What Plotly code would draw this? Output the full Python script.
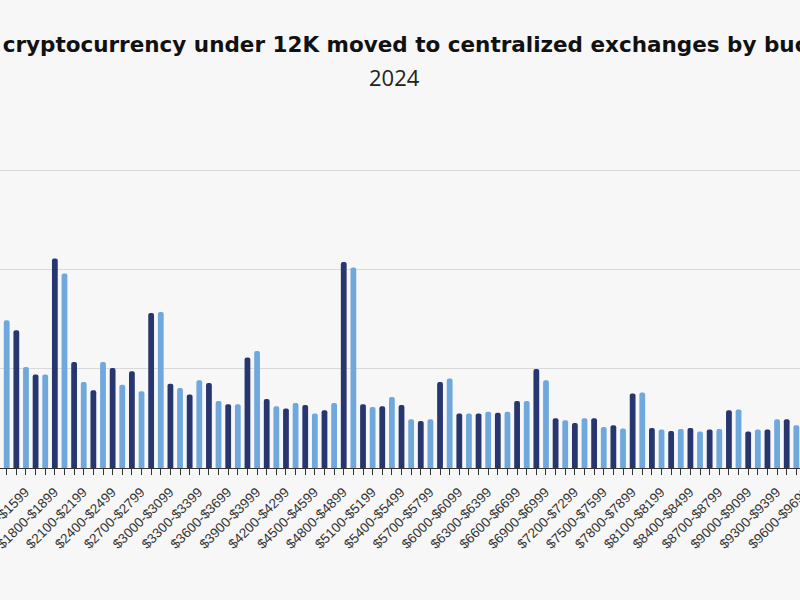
import plotly.graph_objects as go

# ---- data ----
bucket_starts = list(range(1300, 9700, 100))
bucket_labels = [f"${s}-${s + 99}" for s in bucket_starts]
labeled_starts = list(range(1500, 9700, 300))

values = [
    137.0, 148.8, 138.8, 101.8, 94.1, 94.1, 211.0, 195.9, 106.8, 86.7,
    78.3, 106.8, 100.8, 84.0, 97.5, 77.3, 156.2, 157.2, 85.0, 80.6,
    74.0, 88.4, 85.7, 67.5, 64.2, 64.2, 111.3, 117.9, 69.5, 62.2,
    59.9, 65.5, 63.5, 54.8, 58.1, 65.5, 207.6, 202.0, 64.2, 61.5,
    62.2, 71.6, 63.5, 49.1, 47.4, 49.1, 86.7, 90.1, 54.8, 54.8,
    54.8, 56.8, 55.8, 56.8, 67.5, 67.5, 99.8, 88.4, 50.1, 48.1,
    45.3, 50.1, 50.1, 41.3, 43.0, 39.7, 75.0, 76.0, 40.3, 38.7,
    37.3, 39.3, 40.3, 36.7, 38.7, 39.3, 58.1, 58.9, 36.7, 38.7,
    38.7, 49.1, 49.1, 43.0,
]

title_text = "Total cryptocurrency under 12K moved to centralized exchanges by bucket"
subtitle_text = "2024"

DARK = "#27366f"
LIGHT = "#6fa8dc"
BG = "#f7f7f7"

colors = [LIGHT if (s // 100) % 2 == 0 else DARK for s in bucket_starts]
ticktext = [lab if s in labeled_starts else "" for s, lab in zip(bucket_starts, bucket_labels)]

x_range = [0.304, 83.38]
y_range = [0, 301.3]

fig = go.Figure()
fig.add_trace(go.Bar(
    x=bucket_labels,
    y=values,
    marker=dict(color=colors, cornerradius=3, line=dict(width=0)),
    showlegend=False,
    hoverinfo="x+y",
))

fig.update_layout(
    width=800,
    height=600,
    paper_bgcolor=BG,
    plot_bgcolor=BG,
    margin=dict(l=0, r=0, t=169, b=132, pad=0, autoexpand=False),
    bargap=0.4,
    title=dict(
        text=title_text,
        x=0.489,
        xanchor="center",
        y=1 - 44 / 600,
        yanchor="middle",
        automargin=False,
        font=dict(family="DejaVu Sans", size=21.5, color="#111111", weight="bold"),
    ),
    annotations=[
        dict(
            text=subtitle_text,
            x=0.4925,
            xref="paper",
            xanchor="center",
            y=1 + (169 - 77) / 299,
            yref="paper",
            yanchor="middle",
            showarrow=False,
            font=dict(family="Open Sans", size=22, color="#222222"),
        )
    ],
    xaxis=dict(
        type="category",
        categoryorder="array",
        categoryarray=bucket_labels,
        range=x_range,
        autorange=False,
        automargin=False,
        tickmode="array",
        tickvals=bucket_labels,
        ticktext=ticktext,
        tickangle=-45,
        ticklabelshift=9,
        ticklabelstandoff=4,
        ticks="outside",
        ticklen=6,
        tickwidth=1,
        tickcolor="#333333",
        showline=True,
        linecolor="#333333",
        linewidth=1,
        showgrid=False,
        zeroline=False,
        tickfont=dict(family="Liberation Sans", size=13.5, color="#333333"),
    ),
    xaxis2=dict(
        type="category",
        categoryorder="array",
        categoryarray=bucket_labels,
        overlaying="x",
        anchor="y",
        side="bottom",
        range=x_range,
        autorange=False,
        automargin=False,
        tickmode="array",
        tickvals=bucket_labels,
        ticks="inside",
        ticklen=7,
        tickwidth=1,
        tickcolor="rgba(40,50,90,0.55)",
        showticklabels=False,
        showline=False,
        showgrid=False,
        zeroline=False,
    ),
    yaxis=dict(
        range=y_range,
        autorange=False,
        automargin=False,
        tickvals=[0, 100, 200, 300],
        showticklabels=False,
        showgrid=True,
        gridcolor="#d9d9d9",
        gridwidth=1,
        zeroline=False,
        showline=False,
        ticks="",
    ),
)

fig.write_html(
    "out.html",
    config={"displayModeBar": False},
    post_script="document.body.style.margin='0';",
)
